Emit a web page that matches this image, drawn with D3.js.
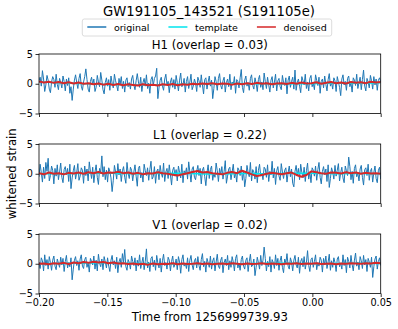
<!DOCTYPE html>
<html>
<head>
<meta charset="utf-8">
<script src="https://cdn.jsdelivr.net/npm/d3@7"></script>
<style>
  body { margin: 0; background: #fff; }
  text { font-family: "DejaVu Sans", sans-serif; fill: #000; }
</style>
</head>
<body>
<script>
// Chart data
const title = "GW191105_143521 (S191105e)";
const detectors = ["H1", "L1", "V1"];
const overlaps = ["0.03", "0.22", "0.02"];
const seriesNames = ["original", "template", "denoised"];
const xTicks = [-0.20, -0.15, -0.10, -0.05, 0.00, 0.05];
const yTicks = [-5, 0, 5];
const tStart = -0.20;
const tEnd = 0.05;

// whitened strain, original (evenly sampled over [tStart, tEnd])
const h1Original = [
  0.5,1.1,-0.4,2.2,0.8,-1.3,-0.2,1.4,0.6,-0.9,-1.5,0.3,1.2,0.7,-0.6,1.6,-0.1,-1.0,0.9,0.2,
  -0.7,1.3,0.4,-1.2,0.8,-0.3,1.0,-1.6,-0.5,-2.8,-0.9,0.6,1.5,0.2,-0.8,0.9,1.7,-0.4,-1.1,0.3,
  1.2,2.5,0.7,-0.9,-1.4,0.4,1.1,-0.2,0.8,-1.3,-0.6,1.4,0.3,-0.5,1.9,0.6,-1.0,-1.7,0.2,1.0,
  -0.4,0.7,-1.1,1.3,0.1,-0.7,1.6,0.5,-0.3,-1.2,0.9,-0.1,1.2,-0.8,0.4,-1.4,0.6,1.0,-0.5,0.2,
  -0.9,0.8,1.4,-0.2,-1.0,0.5,1.7,0.3,-0.6,1.1,-1.3,0.2,0.9,-0.4,1.5,-0.8,0.1,-1.6,0.7,1.2,
  -0.3,0.9,1.3,2.6,-2.5,-0.7,0.6,1.1,-0.4,-1.1,0.8,1.6,-0.2,0.4,-1.5,0.3,1.0,-0.6,0.7,-0.9,
  1.4,0.2,-1.2,0.6,1.8,-0.5,-0.1,0.9,-1.4,0.4,1.2,-0.8,0.3,1.6,-1.0,-0.4,0.8,0.1,-1.3,1.1,
  0.5,-0.6,1.5,-0.2,-1.7,0.7,1.0,-0.9,0.3,1.3,-0.4,0.6,-2.5,-0.8,1.2,0.4,-1.1,0.9,1.7,-0.3,
  -0.9,0.5,1.1,-1.4,0.2,0.8,-0.5,1.6,-1.0,0.3,-0.2,1.2,-1.6,0.7,0.4,-0.7,1.0,2.4,-0.6,-1.5,
  0.6,1.3,-0.4,0.2,-1.1,0.9,1.5,-0.3,-0.9,1.0,0.1,-1.3,0.7,1.4,-0.6,0.3,-1.0,1.8,0.4,-0.8,
  1.1,-0.2,-1.4,0.6,1.2,-0.7,0.3,1.6,-1.2,0.5,0.9,-0.5,-1.0,1.4,0.2,-0.3,1.0,-1.7,0.6,1.3,
  -0.6,0.4,1.1,-0.9,2.3,-1.1,0.2,0.8,-0.4,-1.5,1.2,0.5,-0.2,1.6,-0.8,0.3,-1.2,0.9,1.4,-0.5,
  0.1,-1.0,1.5,0.6,-0.3,1.1,-1.6,0.4,0.8,-0.7,1.3,-0.1,-1.2,0.7,1.7,-0.4,0.2,-0.9,1.0,0.5,
  -1.3,1.2,0.3,-0.6,-2.0,0.8,1.5,-0.2,0.4,-1.1,0.9,1.3,-0.5,0.1,-1.4,1.0,0.6,-0.3,1.6,-0.8,
  0.2,1.1,-1.0,0.7,2.3,-0.4,-1.2,0.9,0.3,-0.7,1.4,0.5,-0.9,1.2,-0.2,0.8,-1.1,0.6,1.0,0.3
];
const l1Original = [
  -0.5,1.6,0.2,-1.4,1.1,-0.8,1.9,0.4,2.6,-1.2,-0.3,1.3,0.6,-1.7,0.9,-0.4,1.5,-1.0,0.3,1.8,
  -0.6,-1.5,0.7,1.2,-0.2,0.9,-1.3,1.6,-2.5,-0.7,0.5,1.4,-0.9,0.2,1.7,-1.1,-0.4,1.0,0.6,-1.6,
  1.3,-0.3,0.8,-1.2,2.0,0.4,-0.8,1.1,-1.5,0.3,1.5,-0.6,-1.8,0.9,0.2,3.0,-0.5,1.2,-1.0,0.6,
  -1.4,1.0,0.4,-0.7,-3.0,-1.1,1.4,0.3,-0.9,1.7,-0.2,0.8,-1.3,0.5,1.2,-0.6,-1.6,1.9,0.1,-0.8,
  1.1,0.6,-1.2,0.3,1.5,-0.4,-2.1,0.9,1.3,-0.7,0.2,-1.4,1.6,0.5,-0.3,1.0,-1.1,0.7,2.1,-0.9,
  -0.5,1.2,-1.6,0.4,0.8,-1.0,1.4,0.1,-0.6,1.8,-1.3,0.3,0.9,-0.8,1.5,-0.2,-1.9,0.6,1.1,-0.4,
  0.7,-1.2,1.3,0.2,-0.7,1.6,-1.5,0.5,-0.1,1.0,-0.9,2.0,0.3,-1.4,0.8,1.2,-0.6,-1.0,0.4,1.4,
  -0.3,0.9,-1.7,0.6,1.1,-0.5,-2.0,0.2,1.5,-0.8,0.7,1.3,-1.1,0.1,-0.6,1.8,0.5,-1.3,0.9,-0.2,
  1.2,-0.9,0.4,2.2,-1.6,-0.4,0.8,1.1,-1.0,0.3,1.6,-0.7,0.2,-1.4,1.0,0.6,-0.3,1.3,-1.1,0.5,
  -2.2,-0.8,1.4,0.2,-0.5,1.9,-1.2,0.7,0.3,-0.9,1.2,-1.5,0.6,1.6,-0.4,0.1,-1.0,1.1,0.8,-0.6,
  1.5,-1.3,0.4,-0.2,2.1,-0.7,0.9,-1.8,0.5,1.2,-0.4,-1.1,1.7,0.3,-0.8,0.6,1.0,-1.4,0.2,1.3,
  -0.5,0.8,-1.6,-2.2,0.4,1.4,-0.3,0.9,-1.0,1.6,0.2,-0.7,1.1,-1.3,0.5,1.8,-0.9,0.3,-1.5,1.0,
  0.6,-0.4,1.3,-1.1,0.7,1.9,-0.6,-1.7,0.4,1.2,-0.2,0.8,-1.3,1.5,-2.3,-0.8,1.0,0.3,-0.9,1.4,
  -0.4,0.6,1.7,-1.2,0.2,1.1,-0.7,-1.5,1.3,0.5,-0.3,2.8,1.2,-1.0,0.4,-1.6,0.9,1.5,-0.5,0.1,
  -1.2,0.8,1.4,-0.6,-1.9,0.7,1.0,-0.3,1.6,-1.1,0.4,0.9,-1.4,0.2,1.3,-0.8,-1.5,0.6,1.1,-0.9
];
const v1Original = [
  0.3,-0.8,1.0,0.5,-1.2,1.5,-0.3,0.7,-0.9,1.2,0.2,-1.1,0.6,1.3,-0.4,-1.0,0.8,0.1,-0.6,1.1,
  -0.2,0.9,-1.3,0.4,1.4,-0.7,0.2,-0.5,1.0,-2.7,-0.9,0.6,1.2,-0.3,0.5,-1.1,0.8,1.5,-0.4,-0.8,
  0.7,1.1,-0.6,0.2,-1.4,0.9,0.4,-0.2,1.3,-0.9,0.6,-1.2,1.6,0.1,-0.5,0.8,-1.0,1.2,0.3,-0.7,
  1.0,-0.4,-1.3,0.6,1.4,-0.2,0.5,-0.8,1.1,-1.5,0.3,0.9,-0.6,1.7,0.2,2.4,-0.5,-1.1,0.7,0.2,
  -0.9,1.3,0.4,-0.3,1.0,-1.2,0.6,-0.4,1.5,-0.8,0.2,1.1,-1.0,0.4,2.5,-0.7,0.3,-1.3,0.9,1.2,
  -0.5,0.6,-1.1,1.4,0.1,-0.7,0.9,-1.4,0.5,1.6,-0.3,0.2,-0.9,1.1,0.6,-1.2,0.4,1.3,-0.6,-0.1,
  0.8,-1.0,1.2,0.3,-1.6,0.7,1.5,-0.4,0.1,-0.8,1.0,-1.3,0.6,1.4,-0.2,-1.0,0.5,0.9,-0.7,1.2,
  -0.3,-1.1,0.7,1.7,-0.5,0.4,-1.4,0.9,0.2,-0.6,1.3,-0.9,0.5,1.0,-1.2,0.3,1.6,-0.4,-0.8,0.6,
  1.1,-1.5,0.2,0.8,-0.3,1.4,-1.0,0.5,-0.6,1.2,0.3,-1.2,0.9,1.5,-0.7,0.1,-1.1,0.7,1.3,-0.4,
  -0.9,0.6,1.0,-1.3,0.4,1.6,-0.5,-0.2,0.8,-2.0,-0.6,1.1,0.2,-0.9,1.4,-0.3,0.6,2.8,0.9,-1.2,
  0.4,-0.5,1.2,-1.4,0.7,0.2,-0.8,1.5,-0.3,0.9,-1.1,0.5,1.3,-0.6,-1.5,0.8,0.1,1.7,-0.4,-0.9,
  1.0,0.3,-1.2,0.6,1.4,-0.2,-0.7,1.1,-1.6,0.4,0.9,-0.5,1.2,-0.9,0.2,2.2,-0.3,-1.3,0.7,1.0,
  -0.6,0.4,1.5,-1.0,0.2,-0.4,1.1,0.6,-1.4,0.9,-0.2,1.3,-0.8,0.3,1.6,-1.1,0.5,-0.6,1.0,0.2,
  -1.3,0.8,1.2,-0.5,0.1,-0.9,1.5,-0.3,0.7,-1.5,1.1,0.4,-0.7,1.4,-0.1,-1.2,0.6,1.8,-0.4,0.3,
  -1.0,1.2,0.5,-0.8,1.4,-0.2,0.7,-1.3,0.9,0.3,-0.6,1.1,-2.3,-0.5,0.8,1.3,-0.9,0.4,1.0,-0.3
];

// template (mostly hidden under the denoised trace)
const h1Template = [0.3,0.15,0.05,-0.1,-0.15,-0.2,-0.15,-0.1,-0.05,0.0,0.05,0.0,-0.05,0.0,0.05,0.1,0.1,0.15];
const l1Template = [0.05,0.0,0.05,0.1,0.05,0.0,0.05,0.1,0.0,-0.05,0.05,0.0,0.05,0.1,0.05,0.0,0.05,0.0];
const v1Template = [0.0,0.05,0.1,0.15,0.1,0.05,0.0,-0.05,0.0,0.05,0.0,0.05,0.1,0.05,0.0,0.05,0.1,0.05];

// denoised
const h1Denoised = [
  0.4,0.2,0.35,0.15,0.3,0.1,0.25,0.05,0.2,0.0,0.1,-0.1,0.05,-0.15,0.0,-0.2,-0.05,-0.25,-0.1,-0.2,
  -0.3,-0.1,-0.25,-0.15,-0.3,-0.1,-0.2,-0.05,-0.25,-0.1,-0.15,0.0,-0.1,0.05,-0.05,0.1,-0.1,0.05,0.0,-0.15,
  0.05,-0.1,0.1,-0.05,0.15,0.0,0.1,-0.1,0.05,0.1,-0.05,0.15,0.0,0.2,0.05,0.1,0.25,0.0,0.15,0.3,
  0.1,0.2,0.05,0.3,0.15,0.25,0.1,0.35,0.2,0.3
];
const l1Denoised = [
  0.1,-0.1,0.2,0.0,0.1,-0.1,0.15,0.05,0.2,0.0,0.25,0.1,0.3,0.05,0.2,0.15,0.35,0.1,0.2,0.0,
  0.15,-0.1,0.1,0.05,0.25,0.1,0.0,-0.15,-0.3,-0.1,0.1,0.3,0.45,0.2,0.3,0.1,0.0,-0.1,0.15,0.3,
  0.1,0.5,0.2,-0.1,-0.4,-0.2,0.0,0.15,0.05,-0.1,0.1,0.2,-0.2,-0.5,-0.2,0.4,0.25,0.1,0.0,0.2,
  0.15,0.05,0.25,0.1,0.2,0.0,0.15,0.05,0.1,0.0
];
const v1Denoised = [
  0.0,0.05,-0.1,0.1,0.0,0.15,-0.05,0.2,0.1,0.3,0.15,0.35,0.2,0.3,0.1,0.2,0.05,0.1,-0.05,0.05,
  -0.1,0.0,-0.15,0.05,-0.1,0.0,-0.05,0.1,-0.1,0.05,-0.05,0.0,0.1,-0.05,0.05,-0.1,0.0,0.05,-0.05,0.1,
  0.0,-0.1,0.05,-0.05,0.0,0.1,-0.05,0.05,0.0,-0.1,0.05,0.0,0.1,-0.05,0.05,0.0,0.1,-0.05,0.0,0.05,
  -0.1,0.05,0.0,0.1,0.05,0.0,0.1,0.05,0.15,0.1
];

const originals = [h1Original, l1Original, v1Original];
const templates = [h1Template, l1Template, v1Template];
const denoiseds = [h1Denoised, l1Denoised, v1Denoised];

// View
const width = 398, height = 329;
const colors = { original: "#1f77b4", template: "#00e5ee", denoised: "#d62728" };
const plotLeft = 39, plotRight = 380.7;
const panelTops = [54, 144, 234];
const panelHeight = 59.5;

const svg = d3.select("body").append("svg")
  .attr("width", width)
  .attr("height", height);

const x = d3.scaleLinear().domain([tStart, tEnd]).range([plotLeft, plotRight]);

// evenly spaced sample times for a series
function withTimes(values) {
  const step = (tEnd - tStart) / (values.length - 1);
  return values.map((v, i) => ({ t: tStart + i * step, v: v }));
}

const fmtX = d => d3.format(".2f")(d).replace("-", "\u2212");
const fmtY = d => String(d).replace("-", "\u2212");

detectors.forEach((det, k) => {
  const top = panelTops[k];
  const y = d3.scaleLinear().domain([-5, 5]).range([top + panelHeight, top]);
  const g = svg.append("g");

  g.append("clipPath").attr("id", "clip" + k)
    .append("rect")
    .attr("x", plotLeft).attr("y", top)
    .attr("width", plotRight - plotLeft).attr("height", panelHeight);

  const line = d3.line().x(d => x(d.t)).y(d => y(d.v));
  const plot = g.append("g").attr("clip-path", "url(#clip" + k + ")");

  plot.append("path")
    .attr("d", line(withTimes(originals[k])))
    .attr("fill", "none").attr("stroke", colors.original)
    .attr("stroke-width", 1).attr("stroke-linejoin", "round");
  plot.append("path")
    .attr("d", d3.line().curve(d3.curveMonotoneX).x(d => x(d.t)).y(d => y(d.v))(withTimes(templates[k])))
    .attr("fill", "none").attr("stroke", colors.template)
    .attr("stroke-width", 1.5);
  plot.append("path")
    .attr("d", line(withTimes(denoiseds[k])))
    .attr("fill", "none").attr("stroke", colors.denoised)
    .attr("stroke-width", 2).attr("stroke-linejoin", "round");

  // axes
  const xAxis = d3.axisBottom(x).tickValues(xTicks).tickSize(3.5).tickPadding(2)
    .tickFormat(k === 2 ? fmtX : "");
  const yAxis = d3.axisLeft(y).tickValues(yTicks).tickSize(3.5).tickPadding(2.5)
    .tickFormat(fmtY);

  const gx = g.append("g").attr("transform", `translate(0,${top + panelHeight})`).call(xAxis);
  const gy = g.append("g").attr("transform", `translate(${plotLeft},0)`).call(yAxis);
  [gx, gy].forEach(a => {
    a.select(".domain").remove();
    a.selectAll("line").attr("stroke", "#000").attr("stroke-width", 0.8);
    a.selectAll("text").attr("font-size", 9.7).attr("fill", "#000")
      .style("font-family", "'DejaVu Sans', sans-serif");
  });

  g.append("rect")
    .attr("x", plotLeft).attr("y", top)
    .attr("width", plotRight - plotLeft).attr("height", panelHeight)
    .attr("fill", "none").attr("stroke", "#000").attr("stroke-width", 0.8);

  g.append("text")
    .attr("x", (plotLeft + plotRight) / 2).attr("y", top - 5.5)
    .attr("text-anchor", "middle").attr("font-size", 11.7)
    .text(`${det} (overlap = ${overlaps[k]})`);
});

// labels
svg.append("text")
  .attr("x", (plotLeft + plotRight) / 2).attr("y", 321)
  .attr("text-anchor", "middle").attr("font-size", 11.7)
  .text("Time from 1256999739.93");

svg.append("text")
  .attr("transform", `translate(15.5,${(panelTops[0] + panelTops[2] + panelHeight) / 2}) rotate(-90)`)
  .attr("text-anchor", "middle").attr("font-size", 11.7)
  .text("whitened strain");

// legend
const legend = svg.append("g");
const legendBox = legend.append("rect")
  .attr("fill", "#fff").attr("stroke", "#d0d0d0").attr("stroke-width", 0.8)
  .attr("rx", 2).attr("opacity", 0.9);
const handleLen = 19, handlePad = 7.6, colGap = 19, boxPad = 5;
let cursor = 0;
const items = legend.append("g");
seriesNames.forEach(name => {
  items.append("line")
    .attr("x1", cursor).attr("x2", cursor + handleLen)
    .attr("y1", 27).attr("y2", 27)
    .attr("stroke", colors[name]).attr("stroke-width", 1.5);
  const t = items.append("text")
    .attr("x", cursor + handleLen + handlePad).attr("y", 30.5)
    .attr("font-size", 9.5).text(name);
  cursor += handleLen + handlePad + t.node().getComputedTextLength() + colGap;
});
const itemsWidth = cursor - colGap;
const legendLeft = 207 - itemsWidth / 2;
items.attr("transform", `translate(${legendLeft},0)`);
legendBox
  .attr("x", legendLeft - boxPad).attr("y", 19)
  .attr("width", itemsWidth + 2 * boxPad).attr("height", 17);

// title drawn last so its underscore stays above the legend frame
svg.append("text")
  .attr("x", 209).attr("y", 15.5)
  .attr("text-anchor", "middle").attr("font-size", 13.2)
  .text(title);
</script>
</body>
</html>
